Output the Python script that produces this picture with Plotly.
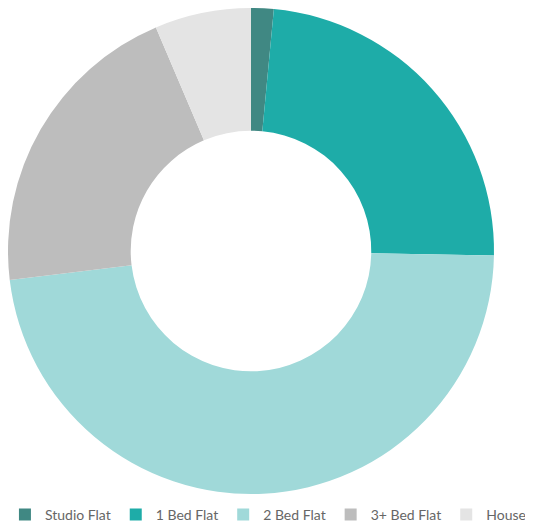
import plotly.graph_objects as go

categories = ["Studio Flat", "1 Bed Flat", "2 Bed Flat", "3+ Bed Flat", "House"]
values = [1.5, 23.8, 47.8, 20.5, 6.4]
colors = ["#408883", "#1eaca8", "#a0d9d9", "#bdbdbd", "#e4e4e4"]

fig = go.Figure(
    go.Pie(
        labels=categories,
        values=values,
        marker=dict(colors=colors, line=dict(color="#ffffff", width=0)),
        hole=0.495,
        sort=False,
        direction="clockwise",
        rotation=0,
        textinfo="none",
        hoverinfo="label+percent",
    )
)

fig.update_layout(
    width=525,
    height=520,
    margin=dict(l=0, r=39, t=0, b=34, autoexpand=False),
    paper_bgcolor="#ffffff",
    plot_bgcolor="#ffffff",
    showlegend=True,
    legend=dict(
        orientation="h",
        x=1.076,
        xanchor="right",
        y=-0.043,
        yanchor="middle",
        font=dict(family="Lato", size=14, color="#666666"),
        itemwidth=30,
        bgcolor="rgba(0,0,0,0)",
    ),
)

fig.write_html("out.html")
